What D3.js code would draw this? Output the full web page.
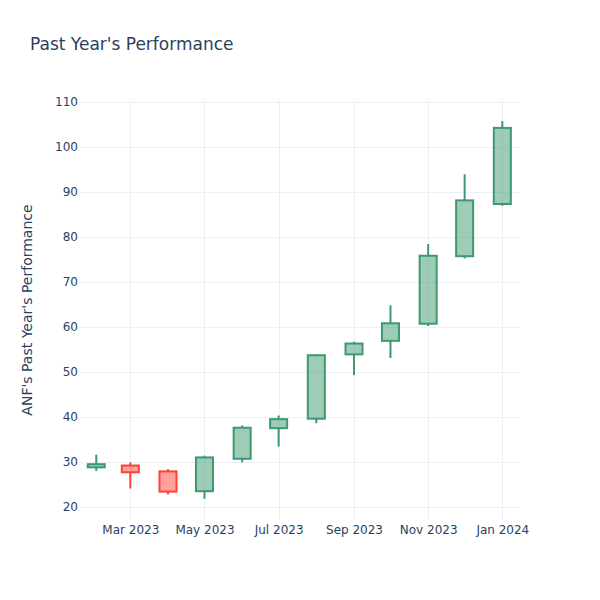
<!DOCTYPE html>
<html>
<head>
<meta charset="utf-8">
<script src="https://cdn.jsdelivr.net/npm/d3@7"></script>
<style>
  body { margin: 0; background: #fff; }
  svg { font-family: "DejaVu Sans", verdana, arial, sans-serif; }
</style>
</head>
<body>
<svg id="chart" width="600" height="600"></svg>
<script>
// ---- data ----
const dates = ["2023-02-01","2023-03-01","2023-04-01","2023-05-01","2023-06-01","2023-07-01",
               "2023-08-01","2023-09-01","2023-10-01","2023-11-01","2023-12-01","2024-01-01"];
const open  = [28.8, 29.2, 27.9, 23.5, 30.7, 37.5, 39.6, 53.9, 56.9, 60.7, 75.7, 87.3];
const high  = [31.6, 29.9, 28.4, 31.4, 38.1, 40.3, 53.9, 56.7, 64.8, 78.4, 93.9, 105.7];
const low   = [28.0, 24.1, 22.8, 21.8, 29.9, 33.4, 38.6, 49.3, 53.1, 60.2, 75.2, 86.9];
const close = [29.5, 27.7, 23.4, 31.0, 37.6, 39.5, 53.7, 56.3, 60.8, 75.8, 88.1, 104.2];
const yTicks = [20, 30, 40, 50, 60, 70, 80, 90, 100, 110];
const xTicks = ["2023-03-01","2023-05-01","2023-07-01","2023-09-01","2023-11-01","2024-01-01"];
const titleText = "Past Year's Performance";
const yTitle = "ANF's Past Year's Performance";

// ---- layout ----
const FONT = '"DejaVu Sans", verdana, arial, sans-serif';
const svg = d3.select("#chart");
const L = 80, R = 520, T = 100, B = 520;
const parse = d3.utcParse("%Y-%m-%d");
const x = d3.scaleUtc()
  .domain([Date.UTC(2023,0,18,15), Date.UTC(2024,0,15,13)])
  .range([L, R]);
const y = d3.scaleLinear().domain([17.1, 110.4]).range([B, T]);

const inc = "#3D9970", dec = "#FF4136";
const incFill = "rgba(61,153,112,0.5)", decFill = "rgba(255,65,54,0.5)";

// grid
const g = svg.append("g");
g.selectAll(".yg").data(yTicks).join("line")
  .attr("x1", L).attr("x2", R)
  .attr("y1", d => Math.round(y(d)) + 0.5).attr("y2", d => Math.round(y(d)) + 0.5)
  .attr("stroke", "#EBF0F8").attr("stroke-width", 1);
g.selectAll(".xg").data(xTicks).join("line")
  .attr("y1", T).attr("y2", B)
  .attr("x1", d => Math.round(x(parse(d))) + 0.5).attr("x2", d => Math.round(x(parse(d))) + 0.5)
  .attr("stroke", "#EBF0F8").attr("stroke-width", 1);

// axes
const yAxis = d3.axisLeft(y).tickValues(yTicks).tickSize(0).tickPadding(2);
const ya = svg.append("g").attr("transform", `translate(${L},0)`).call(yAxis);
const xAxis = d3.axisBottom(x).tickValues(xTicks.map(parse)).tickFormat(d3.utcFormat("%b %Y")).tickSize(0).tickPadding(12);
const xa = svg.append("g").attr("transform", `translate(0,${B - 7})`).call(xAxis);
[ya, xa].forEach(a => {
  a.select(".domain").remove();
  a.selectAll("text").attr("fill", "#2a3f5f").attr("font-size", 12)
    .attr("font-family", FONT);
});

// candles
const halfW = 7 * 24 * 3600 * 1000;
const data = dates.map((d, i) => ({ t: parse(d), o: open[i], h: high[i], l: low[i], c: close[i] }));
const cg = svg.append("g");
data.forEach(d => {
  const up = d.c >= d.o;
  const col = up ? inc : dec;
  const cx = x(d.t);
  const x0 = x(new Date(+d.t - halfW)), x1 = x(new Date(+d.t + halfW));
  const top = Math.max(d.o, d.c), bot = Math.min(d.o, d.c);
  cg.append("line").attr("x1", cx).attr("x2", cx).attr("y1", y(d.h)).attr("y2", y(top))
    .attr("stroke", col).attr("stroke-width", 2);
  cg.append("line").attr("x1", cx).attr("x2", cx).attr("y1", y(bot)).attr("y2", y(d.l))
    .attr("stroke", col).attr("stroke-width", 2);
  cg.append("rect").attr("x", x0).attr("width", x1 - x0)
    .attr("y", y(top)).attr("height", Math.max(0.5, y(bot) - y(top)))
    .attr("fill", up ? incFill : decFill).attr("stroke", col).attr("stroke-width", 2);
});

// titles
svg.append("text").attr("x", 30).attr("y", 49.5).text(titleText)
  .attr("fill", "#2a3f5f").attr("font-size", 17).attr("font-family", FONT);
svg.append("text").attr("transform", `translate(32,${(T + B) / 2}) rotate(-90)`)
  .attr("text-anchor", "middle").text(yTitle)
  .attr("fill", "#2a3f5f").attr("font-size", 14).attr("font-family", FONT);
</script>
</body>
</html>
